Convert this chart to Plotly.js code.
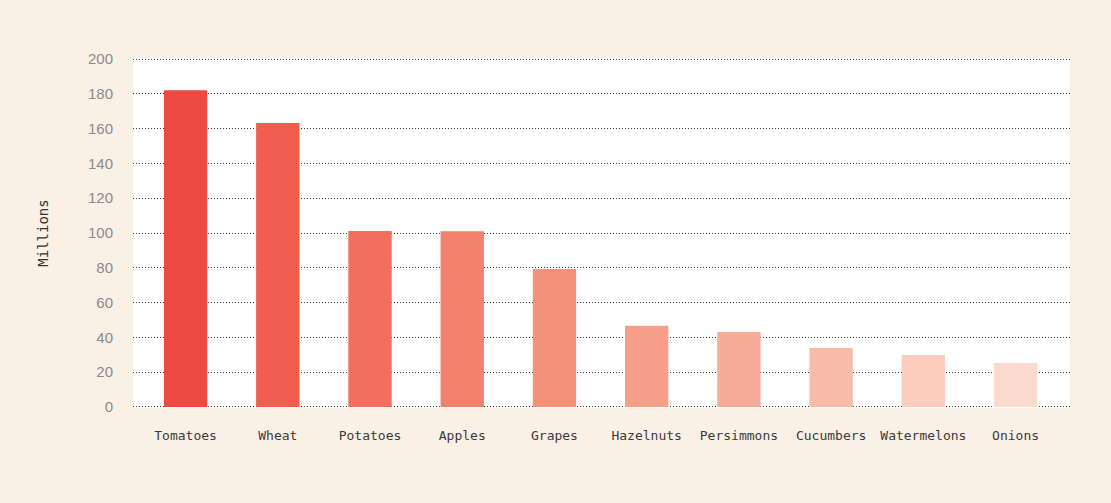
<!DOCTYPE html>
<html>
<head>
<meta charset="utf-8">
<script src="https://cdn.plot.ly/plotly-3.0.1.min.js"></script>
<style>html,body{margin:0;padding:0;background:#FBF0E5;}#chart{width:1111px;height:503px;}</style>
</head>
<body>
<div id="chart"></div>
<script>
const categories = ["Tomatoes","Wheat","Potatoes","Apples","Grapes","Hazelnuts","Persimmons","Cucumbers","Watermelons","Onions"];
const values = [182, 163.2, 101.1, 101, 79.3, 46.7, 43.1, 33.9, 29.9, 25.3];
const barColors = ["#EF4A42","#F05E50","#F26E5E","#F1806C","#F3917A","#F69E89","#F7AC99","#F8BBAA","#FACDBE","#FBDBCF"];
const yTicks = [0,20,40,60,80,100,120,140,160,180,200];

const trace = {
  type: 'bar',
  x: categories,
  y: values,
  marker: {color: barColors, line: {width: 0}},
  width: 0.47,
  hoverinfo: 'x+y'
};

const layout = {
  width: 1111, height: 503,
  paper_bgcolor: '#FBF0E5',
  plot_bgcolor: '#FFFFFF',
  margin: {l: 133, r: 41, t: 58, b: 95},
  showlegend: false,
  xaxis: {
    type: 'category',
    range: [-0.57, 9.59],
    showgrid: false,
    zeroline: false,
    showline: false,
    ticks: 'outside', ticklen: 15, tickcolor: 'rgba(0,0,0,0)',
    tickfont: {family: 'DejaVu Sans Mono, Liberation Mono, monospace', size: 13, color: '#3A3A3A'}
  },
  yaxis: {
    range: [-0.6, 200.6],
    tickvals: yTicks,
    showgrid: true,
    gridcolor: '#333333',
    gridwidth: 1,
    griddash: '1px,2px',
    zeroline: false,
    showline: false,
    ticks: 'outside', ticklen: 16, tickcolor: 'rgba(0,0,0,0)',
    tickfont: {family: 'Liberation Sans, Arial, sans-serif', size: 15, color: '#8A8A8A'},
    title: {text: 'Millions', standoff: 36, font: {family: 'DejaVu Sans Mono, Liberation Mono, monospace', size: 14, color: '#333333'}},
    automargin: false
  }
};

Plotly.newPlot('chart', [trace], layout, {displayModeBar: false, staticPlot: true});
</script>
</body>
</html>
